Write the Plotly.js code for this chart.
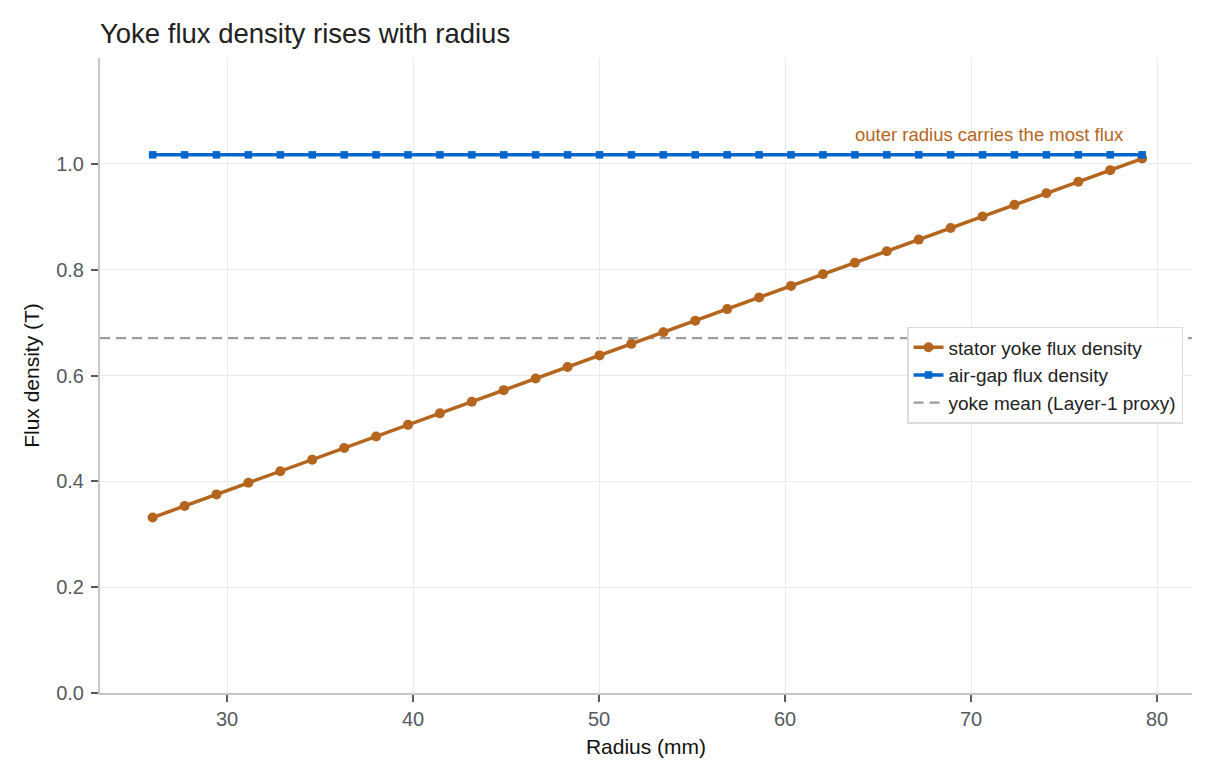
<!DOCTYPE html>
<html>
<head>
<meta charset="utf-8">
<script src="https://cdn.plot.ly/plotly-3.0.1.min.js"></script>
<style>html,body{margin:0;padding:0;background:#fff;}#chart{width:1216px;height:784px;}</style>
</head>
<body>
<div id="chart"></div>
<script>
const radius = [26.000, 27.716, 29.432, 31.148, 32.865, 34.581, 36.297, 38.013, 39.729, 41.445, 43.161, 44.877, 46.594, 48.310, 50.026, 51.742, 53.458, 55.174, 56.890, 58.606, 60.323, 62.039, 63.755, 65.471, 67.187, 68.903, 70.619, 72.335, 74.052, 75.768, 77.484, 79.200];
const yokeFlux = [0.3316, 0.3535, 0.3753, 0.3972, 0.4191, 0.4410, 0.4629, 0.4848, 0.5067, 0.5285, 0.5504, 0.5723, 0.5942, 0.6161, 0.6380, 0.6598, 0.6817, 0.7036, 0.7255, 0.7474, 0.7693, 0.7912, 0.8130, 0.8349, 0.8568, 0.8787, 0.9006, 0.9225, 0.9444, 0.9662, 0.9881, 1.0100];
const airGapFlux = [1.017, 1.017, 1.017, 1.017, 1.017, 1.017, 1.017, 1.017, 1.017, 1.017, 1.017, 1.017, 1.017, 1.017, 1.017, 1.017, 1.017, 1.017, 1.017, 1.017, 1.017, 1.017, 1.017, 1.017, 1.017, 1.017, 1.017, 1.017, 1.017, 1.017, 1.017, 1.017];
const yokeMean = 0.6708;
const seriesNames = ["stator yoke flux density", "air-gap flux density", "yoke mean (Layer-1 proxy)"];
const titleText = "Yoke flux density rises with radius";
const xTitle = "Radius (mm)";
const yTitle = "Flux density (T)";
const noteText = "outer radius carries the most flux";

const FONT = "Liberation Sans, Arial, Helvetica, sans-serif";
const ORANGE = "#b5651d";
const BLUE = "#0066cc";
const GREY = "#9a9ca3";

const traces = [
  {x: radius, y: yokeFlux, name: seriesNames[0], mode: "lines+markers",
   line: {color: ORANGE, width: 3.5}, marker: {color: ORANGE, size: 10, symbol: "circle"}},
  {x: radius, y: airGapFlux, name: seriesNames[1], mode: "lines+markers",
   line: {color: BLUE, width: 3.5}, marker: {color: BLUE, size: 7.5, symbol: "square"}},
  {x: [radius[0]], y: [yokeMean], name: seriesNames[2], mode: "lines",
   line: {color: GREY, width: 2.2, dash: "10px,6px"}, hoverinfo: "skip"}
];

const n = radius.length - 1;
const layout = {
  width: 1216, height: 784,
  margin: {l: 100, r: 24, t: 58, b: 91},
  paper_bgcolor: "#fff", plot_bgcolor: "#fff",
  font: {family: FONT, size: 18, color: "#222"},
  title: {text: titleText, x: 100/1216, xanchor: "left", y: 1 - 33.5/784, yanchor: "middle", yref: "container",
          font: {family: FONT, size: 27.5, color: "#222"}},
  xaxis: {
    range: [23.17, 81.88], tickvals: [30, 40, 50, 60, 70, 80],
    showgrid: true, gridcolor: "#ebebeb", gridwidth: 1, zeroline: false,
    showline: true, linecolor: "#c6c7cc", linewidth: 2,
    ticks: "outside", ticklen: 7, tickcolor: "#555a60", tickwidth: 2,
    tickfont: {family: FONT, size: 20, color: "#555a60"},
    title: {text: xTitle, font: {family: FONT, size: 21, color: "#111"}, standoff: 10}
  },
  yaxis: {
    range: [0, 1.2], tickvals: [0, 0.2, 0.4, 0.6, 0.8, 1.0], tickformat: ".1f",
    showgrid: true, gridcolor: "#ebebeb", gridwidth: 1, zeroline: false,
    showline: true, linecolor: "#c6c7cc", linewidth: 2,
    ticks: "outside", ticklen: 7, tickcolor: "#555a60", tickwidth: 2, ticklabelstandoff: 3,
    tickfont: {family: FONT, size: 20, color: "#555a60"},
    title: {text: yTitle, font: {family: FONT, size: 21, color: "#111"}, standoff: 11}
  },
  shapes: [{type: "line", xref: "paper", x0: 0, x1: 1, yref: "y", y0: yokeMean, y1: yokeMean,
            line: {color: GREY, width: 2.2, dash: "10px,6px"}, layer: "below"}],
  legend: {x: 0.9918, xanchor: "right", y: 0.5765, yanchor: "top",
           bgcolor: "rgba(255,255,255,0.95)", bordercolor: "#dcdce0", borderwidth: 1.5,
           font: {family: FONT, size: 19, color: "#222"}, tracegroupgap: 0},
  annotations: [{x: radius[n], y: yokeFlux[n], xref: "x", yref: "y", text: noteText,
                 showarrow: false, xanchor: "right", yanchor: "middle", xshift: -16, yshift: 24,
                 font: {family: FONT, size: 18.5, color: ORANGE}}],
  showlegend: true
};

Plotly.newPlot("chart", traces, layout, {displayModeBar: false, staticPlot: true});
</script>
</body>
</html>
